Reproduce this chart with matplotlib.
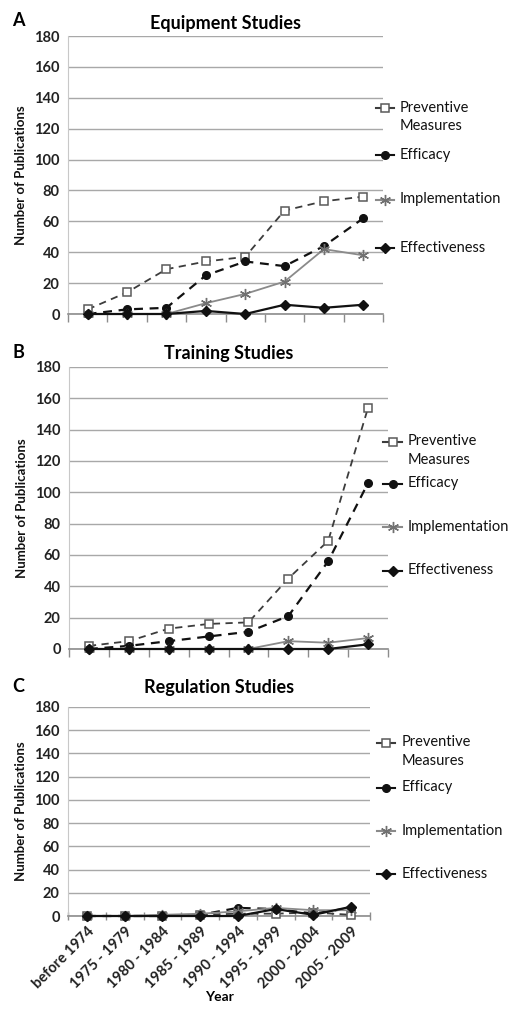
import numpy as np
import matplotlib
matplotlib.use("Agg")
import matplotlib.pyplot as plt
from matplotlib.lines import Line2D

plt.rcParams["font.family"] = ["Lato", "DejaVu Sans"]

W, H = 513, 1010

years = ["before 1974", "1975 - 1979", "1980 - 1984", "1985 - 1989",
         "1990 - 1994", "1995 - 1999", "2000 - 2004", "2005 - 2009"]
series_names = ["Preventive\nMeasures", "Efficacy", "Implementation", "Effectiveness"]

# panel A: equipment studies
equip_pm = [3, 14, 29, 34, 37, 67, 73, 76]
equip_eff = [0, 3, 4, 25, 34, 31, 44, 62]
equip_imp = [0, 0, 0, 7, 13, 21, 42, 38]
equip_efv = [0, 0, 0, 2, 0, 6, 4, 6]

# panel B: training studies
train_pm = [2, 5, 13, 16, 17, 45, 69, 154]
train_eff = [0, 2, 5, 8, 11, 21, 56, 106]
train_imp = [0, 0, 0, 0, 0, 5, 4, 7]
train_efv = [0, 0, 0, 0, 0, 0, 0, 3]

# panel C: regulation studies
reg_pm = [0, 0, 0, 1, 2, 2, 3, 1]
reg_eff = [0, 0, 0, 1, 7, 6, 2, 7]
reg_imp = [0, 0, 1, 2, 4, 7, 5, 5]
reg_efv = [0, 0, 0, 0, 0, 6, 1, 8]

STYLES = [
    dict(color="#3c3c3c", ls=(0, (4, 3)), lw=1.3, marker="s", ms=5.5,
         mfc="white", mec="#5a5a5a", mew=1.1),
    dict(color="#111111", ls=(0, (4, 3)), lw=1.6, marker="o", ms=5.5,
         mfc="#111111", mec="#111111"),
    dict(color="#8a8a8a", ls="-", lw=1.3, marker=(6, 2, 0), ms=8,
         mfc="#707070", mec="#707070", mew=1.0),
    dict(color="#111111", ls="-", lw=1.6, marker="D", ms=5,
         mfc="#111111", mec="#111111"),
]

# layout in pixels: (left, right, top, bottom) of plot area
PANELS = [
    dict(letter="A", title="Equipment Studies", box=(68, 383, 36, 314),
         data=[equip_pm, equip_eff, equip_imp, equip_efv],
         leg_x=(376, 394, 400), leg_y=[108, 155, 200, 248], letter_y=20, title_y=23),
    dict(letter="B", title="Training Studies", box=(69, 388, 367, 649),
         data=[train_pm, train_eff, train_imp, train_efv],
         leg_x=(383, 402, 408), leg_y=[442, 484, 527, 571], letter_y=352, title_y=353),
    dict(letter="C", title="Regulation Studies", box=(68, 370, 707, 916),
         data=[reg_pm, reg_eff, reg_imp, reg_efv],
         leg_x=(377, 395, 402), leg_y=[743, 788, 831, 874], letter_y=686, title_y=687),
]

fig = plt.figure(figsize=(W / 100, H / 100), dpi=100)
x = np.arange(len(years))

for i, p in enumerate(PANELS):
    l, r, t, b = p["box"]
    ax = fig.add_axes([l / W, 1 - b / H, (r - l) / W, (b - t) / H])
    for vals, st in zip(p["data"], STYLES):
        ax.plot(x, vals, clip_on=False, zorder=3, **st)
    ax.set_xlim(-0.5, len(years) - 0.5)
    ax.set_ylim(0, 180)
    ax.set_yticks(np.arange(0, 181, 20))
    ax.yaxis.grid(True, color="#a8a8a8", lw=1.0)
    ax.set_axisbelow(True)
    for s in ("top", "right"):
        ax.spines[s].set_visible(False)
    ax.spines["left"].set_color("#c8c8c8")
    ax.spines["bottom"].set_color("#8c8c8c")
    ax.spines["bottom"].set_linewidth(1.2)
    ax.tick_params(axis="y", length=0, labelsize=10.5, pad=6)
    for lab in ax.get_yticklabels():
        lab.set_fontweight("bold")
        lab.set_color("#222222")
    ax.set_xticks(np.arange(len(years) + 1) - 0.5, minor=True)
    ax.tick_params(axis="x", which="minor", length=6, color="#8c8c8c",
                   direction="inout" if i == 2 else "out", width=1)
    ax.tick_params(axis="x", which="major", length=0)
    ax.set_xticks(x)
    if i == 2:
        ax.set_xticklabels(years, rotation=45, ha="right", rotation_mode="anchor",
                           fontsize=10.5, fontweight="bold", color="#222222")
        ax.tick_params(axis="x", which="major", pad=6)
        ax.set_xlabel("Year", fontsize=10, fontweight="bold", labelpad=0)
    else:
        ax.set_xticklabels([])
    ax.set_ylabel("Number of Publications", fontsize=9.5, fontweight="bold",
                  labelpad=5, color="#111111")

    fig.text(12 / W, 1 - p["letter_y"] / H, p["letter"], fontsize=13,
             fontweight="bold", va="center", ha="left")
    fig.text((l + r) / 2 / W, 1 - p["title_y"] / H, p["title"], fontsize=13,
             fontweight="bold", va="center", ha="center")

    # legend on the right
    x0, x1, xt = p["leg_x"]
    for name, st, yp in zip(series_names, STYLES, p["leg_y"]):
        yf = 1 - yp / H
        kw = dict(st)
        kw["ls"] = "-"
        kw["lw"] = 1.5
        fig.add_artist(Line2D([x0 / W, (x0 + x1) / 2 / W, x1 / W], [yf, yf, yf],
                              transform=fig.transFigure, markevery=[1], **kw))
        fig.text(xt / W, yf + 7.5 / H, name, fontsize=10.5, va="top", ha="left",
                 linespacing=1.45, color="#111111")

fig.savefig("out.png", dpi=100, facecolor="white")
